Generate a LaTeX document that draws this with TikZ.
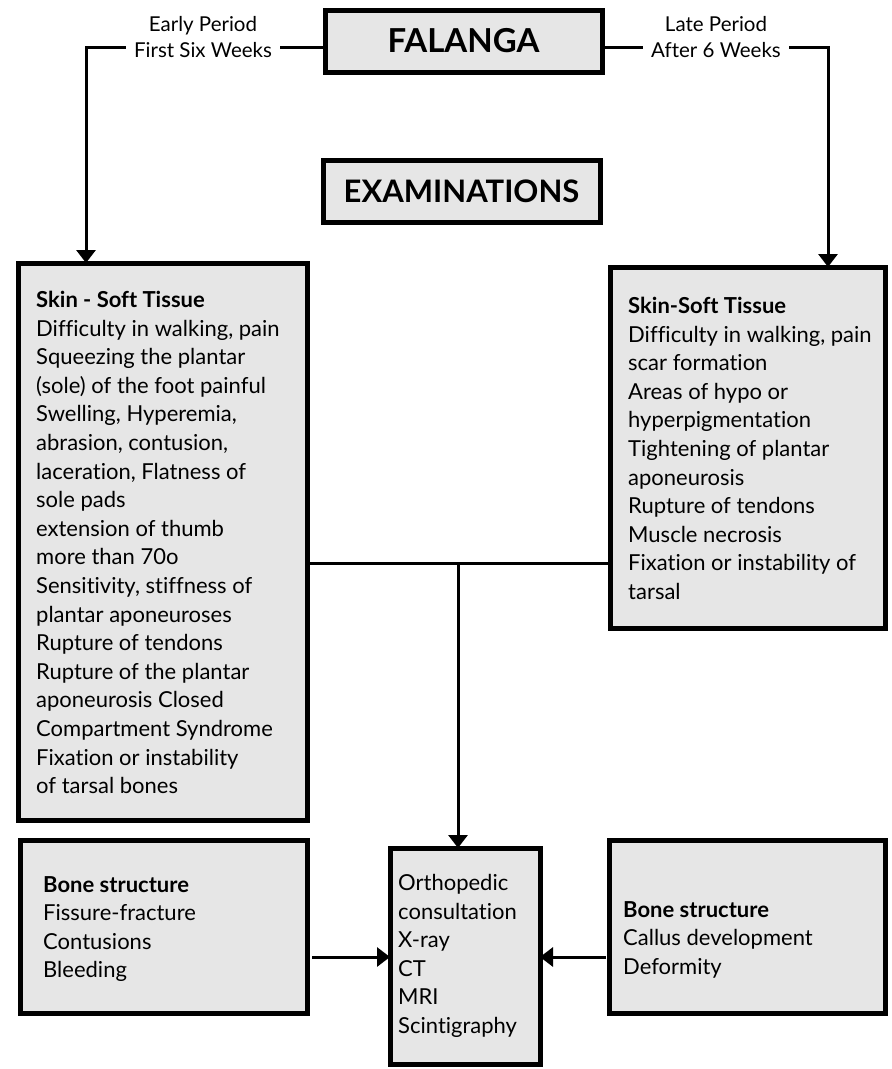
\documentclass[tikz,border=0pt]{standalone}
\usepackage{fontspec}
\setmainfont{Lato}[Ligatures=NoCommon]
\usetikzlibrary{arrows.meta}
\definecolor{boxfill}{HTML}{E6E6E6}
\begin{document}
\begin{tikzpicture}[x=1pt,y=-1pt,
  box/.style={draw=black, fill=boxfill, line width=5pt, inner sep=0pt, outer sep=0pt},
  body/.style={font=\fontsize{22}{28.6}\selectfont, align=left, anchor=north west, inner sep=0pt},
  period/.style={font=\fontsize{20.5}{26}\selectfont, align=center, fill=white, inner xsep=8pt, inner ysep=2pt},
  conn/.style={line width=3pt},
  arr/.style={conn, -{Triangle[length=13pt,width=19pt]}},
]
\useasboundingbox (0,0) rectangle (892,1069);

% title and heading boxes
\node[box, minimum width=277pt, minimum height=62pt] (falanga) at (463.5,41)
  {\fontsize{33}{33}\selectfont\bfseries FALANGA};
\node[box, minimum width=277pt, minimum height=62pt] (exam) at (461.5,191)
  {\fontsize{31}{31}\selectfont\bfseries EXAMINATIONS};

% soft tissue findings
\node[box, minimum width=289pt, minimum height=557pt] (skinL) at (162.5,541.5) {};
\node[box, minimum width=275pt, minimum height=361pt] (skinR) at (747.5,447.5) {};
\node[body] (skinLtext) at (36,291) {\textbf{Skin - Soft Tissue}\\
Difficulty in walking, pain\\
Squeezing the plantar\\
(sole) of the foot painful\\
Swelling, Hyperemia,\\
abrasion, contusion,\\
laceration, Flatness of\\
sole pads\\
extension of thumb\\
more than 70o\\
Sensitivity, stiffness of\\
plantar aponeuroses\\
Rupture of tendons\\
Rupture of the plantar\\
aponeurosis Closed\\
Compartment Syndrome\\
Fixation or instability\\
of tarsal bones};
\node[body] (skinRtext) at (628,297) {\textbf{Skin-Soft Tissue}\\
Difficulty in walking, pain\\
scar formation\\
Areas of hypo or\\
hyperpigmentation\\
Tightening of plantar\\
aponeurosis\\
Rupture of tendons\\
Muscle necrosis\\
Fixation or instability of\\
tarsal};

% bone findings and examinations
\node[box, minimum width=287pt, minimum height=173pt] (boneL) at (163.5,926.5) {};
\node[box, minimum width=276pt, minimum height=173pt] (boneR) at (747,926.5) {};
\node[box, minimum width=150pt, minimum height=216pt] (tests) at (465,956) {};
\node[body] (boneLtext) at (43,876) {\textbf{Bone structure}\\
Fissure-fracture\\
Contusions\\
Bleeding};
\node[body] (boneRtext) at (623,901) {\textbf{Bone structure}\\
Callus development\\
Deformity};
\node[body] (teststext) at (398,874) {Orthopedic\\
consultation\\
X-ray\\
CT\\
MRI\\
Scintigraphy};

% period branches from the title
\coordinate (lt) at (86,47);
\coordinate (rt) at (828,47);
\draw[arr] (falanga.west |- lt) -- (lt) -- (skinL.north -| lt);
\draw[arr] (falanga.east |- rt) -- (rt) -- (skinR.north -| rt);
\node[period] (early) at (203,37) {Early Period\\First Six Weeks};
\node[period] (late) at (716,37) {Late Period\\After 6 Weeks};

% joining line down to the examinations
\coordinate (mj) at (458,563);
\draw[conn] (skinL.east |- mj) -- (skinR.west |- mj);
\draw[arr] (mj) -- (tests.north -| mj);

% bone findings into the examinations
\coordinate (ay) at (0,957);
\draw[arr, shorten <=5pt] (boneL.east |- ay) -- (tests.west |- ay);
\draw[arr, shorten <=3pt] (boneR.west |- ay) -- (tests.east |- ay);
\end{tikzpicture}
\end{document}
